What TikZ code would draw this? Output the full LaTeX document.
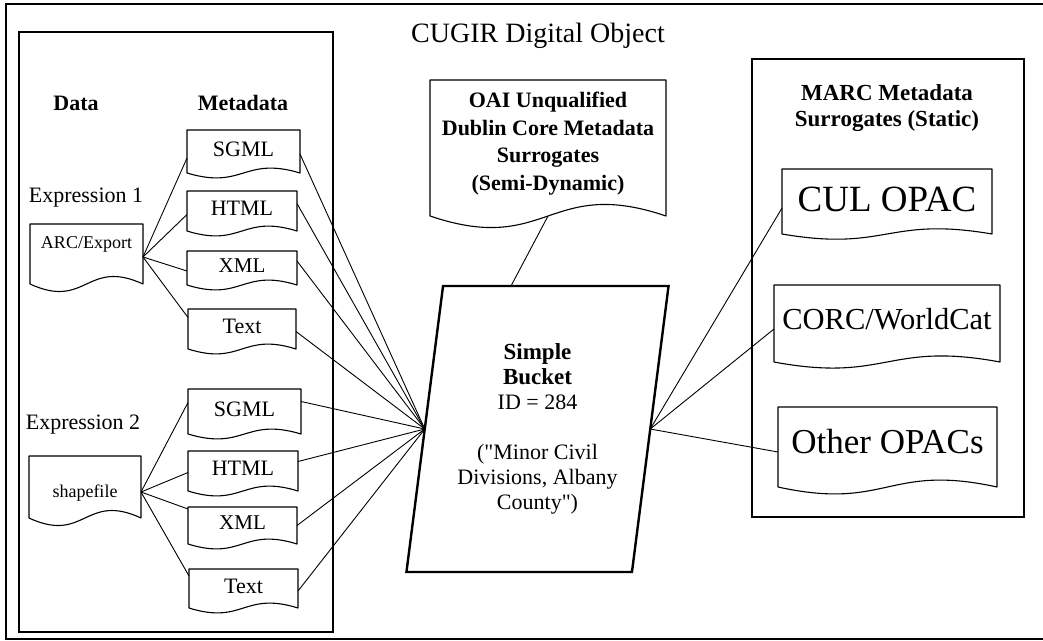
\documentclass[tikz,border=0pt]{standalone}
\usepackage{fontspec}
\setmainfont{Liberation Serif}
\usetikzlibrary{shapes.geometric,calc}
\begin{document}
\begin{tikzpicture}[x=1pt,y=-1pt,
  doc/.style={draw=none, inner sep=0pt, outer sep=0pt},
  meta/.style={doc, font=\fontsize{22}{26}\selectfont, text depth=5pt},
  docline/.style={line width=1.1pt, line join=round},
  link/.style={line width=0.9pt},
  box/.style={draw, line width=1.1pt, inner sep=0pt, outer sep=0pt},
  lbl/.style={inner sep=0pt, anchor=base},
]
\useasboundingbox (0,0) rectangle (1043,640);
% outer frame
\draw[line width=1.4pt] (1043,4) -- (6,4) -- (6,639) -- (1043,639);
\node[lbl, font=\fontsize{28}{32}\selectfont] (title) at (538,42) {CUGIR Digital Object};

% containers
\node[box, minimum width=314pt, minimum height=600pt] (left) at (176,332) {};
\node[box, minimum width=272pt, minimum height=458pt] (marc) at (888,288) {};

% headings
\node[lbl, font=\bfseries\fontsize{22}{26}\selectfont] (data) at (76,110) {Data};
\node[lbl, font=\bfseries\fontsize{22}{26}\selectfont] (metadata) at (243,110) {Metadata};
\node[lbl, font=\fontsize{22}{26}\selectfont] (expr1) at (86,202) {Expression 1};
\node[lbl, font=\fontsize{22}{26}\selectfont] (expr2) at (83,429) {Expression 2};
\node[inner sep=0pt, anchor=north, align=center, font=\bfseries\fontsize{23}{26}\selectfont] (marchead) at (887,84.5) {MARC Metadata\\Surrogates (Static)};

% data documents
\node[doc, minimum width=113pt, minimum height=60pt, font=\fontsize{18}{21}\selectfont] (arc) at (86.5,254)
  {\parbox[c][60pt][t]{113pt}{\centering\vspace*{13pt}ARC/Export}};
\node[doc, minimum width=112pt, minimum height=62pt, font=\fontsize{18}{21}\selectfont] (shp) at (85,487)
  {\parbox[c][62pt][t]{112pt}{\centering\vspace*{28.5pt}shapefile}};

% metadata documents
\node[meta, minimum width=113pt, minimum height=43pt] (sgml1) at (243.5,151.5) {SGML};
\node[meta, minimum width=110pt, minimum height=40pt] (html1) at (242,211) {HTML};
\node[meta, minimum width=110pt, minimum height=34pt, font=\fontsize{21}{26}\selectfont] (xml1) at (242,268) {XML};
\node[meta, minimum width=108pt, minimum height=40pt] (text1) at (242,329) {Text};
\node[meta, minimum width=113pt, minimum height=45pt] (sgml2) at (244.5,411.5) {SGML};
\node[meta, minimum width=110pt, minimum height=40pt] (html2) at (243,471) {HTML};
\node[meta, minimum width=109pt, minimum height=37pt, font=\fontsize{21}{26}\selectfont] (xml2) at (242.5,525.5) {XML};
\node[meta, minimum width=109pt, minimum height=39pt] (text2) at (243.5,588.5) {Text};

% OAI document
\node[doc, minimum width=236pt, minimum height=136pt, font=\bfseries\fontsize{22}{27.7}\selectfont] (oai) at (548,148)
  {\parbox[c][136pt][t]{236pt}{\centering\vspace*{12pt}OAI Unqualified\\Dublin Core Metadata\\Surrogates\\(Semi-Dynamic)}};

% bucket
\node[draw, trapezium, trapezium stretches=true, trapezium left angle=79.7, trapezium right angle=100.3,
  minimum width=263pt, minimum height=286pt, line width=2.4pt, inner sep=0pt, outer sep=0pt,
  align=center, font=\fontsize{22}{25}\selectfont] (bucket) at (537.5,429)
  {{\fontsize{23}{25}\selectfont\bfseries Simple}\\{\fontsize{23}{25}\selectfont\bfseries Bucket}\\ID = 284\\[25pt](\textquotedbl Minor Civil\\Divisions, Albany\\County\textquotedbl)};

% MARC documents
\node[doc, minimum width=210pt, minimum height=65pt, font=\fontsize{37}{40}\selectfont, text depth=5pt] (cul) at (887,201.5) {CUL OPAC};
\node[doc, minimum width=226pt, minimum height=77pt, font=\fontsize{30.5}{34}\selectfont, text depth=9.6pt] (corc) at (887,323.5) {CORC/WorldCat};
\node[doc, minimum width=219pt, minimum height=80pt, font=\fontsize{35}{40}\selectfont, text depth=10.7pt] (other) at (887.5,447) {Other OPACs};

% document outlines
\foreach \n/\k in {arc/26,shp/26,sgml1/17,html1/17,xml1/17,text1/17,sgml2/17,html2/17,xml2/17,text2/17,oai/40,cul/18,corc/21,other/24}
  \draw[docline] (\n.north west) -- (\n.north east) -- (\n.south east)
    .. controls ($(\n.south)+(0,-\k)$) and ($(\n.south)+(0,\k)$) .. (\n.south west) -- cycle;

% data to metadata
\draw[link] ([yshift=-3pt]arc.east) -- ([yshift=-6.5pt]sgml1.west);
\draw[link] ([yshift=-3pt]arc.east) -- ([yshift=-3.5pt]html1.west);
\draw[link] ([yshift=-3pt]arc.east) -- ([yshift=-3pt]xml1.west);
\draw[link] ([yshift=-3pt]arc.east) -- ([yshift=11.5pt]text1.west);
\draw[link] ([yshift=-5pt]shp.east) -- ([yshift=9pt]sgml2.west);
\draw[link] ([yshift=-5pt]shp.east) -- ([yshift=-1.5pt]html2.west);
\draw[link] ([yshift=-5pt]shp.east) -- ([yshift=-2pt]xml2.north west);
\draw[link] ([yshift=-5pt]shp.east) -- ([yshift=12.5pt]text2.west);

% metadata to bucket
\draw[link] ([yshift=-2.5pt]sgml1.east) -- (bucket.west);
\draw[link] ([yshift=7.5pt]html1.east) -- (bucket.west);
\draw[link] ([yshift=7pt]xml1.east) -- (bucket.west);
\draw[link] ([yshift=-2.5pt]text1.east) -- (bucket.west);
\draw[link] ([yshift=10pt]sgml2.east) -- (bucket.west);
\draw[link] ([yshift=9.5pt]html2.east) -- (bucket.west);
\draw[link] (xml2.east) -- (bucket.west);
\draw[link] ([yshift=-2.5pt]text2.east) -- (bucket.west);

% OAI to bucket
\draw[link] (oai.south) -- ([xshift=-26.5pt]bucket.north);

% bucket to MARC
\draw[link] (bucket.east) -- ([yshift=-6.5pt]cul.west);
\draw[link] (bucket.east) -- ([yshift=-5.5pt]corc.west);
\draw[link] (bucket.east) -- ([yshift=-5pt]other.west);
\end{tikzpicture}
\end{document}
